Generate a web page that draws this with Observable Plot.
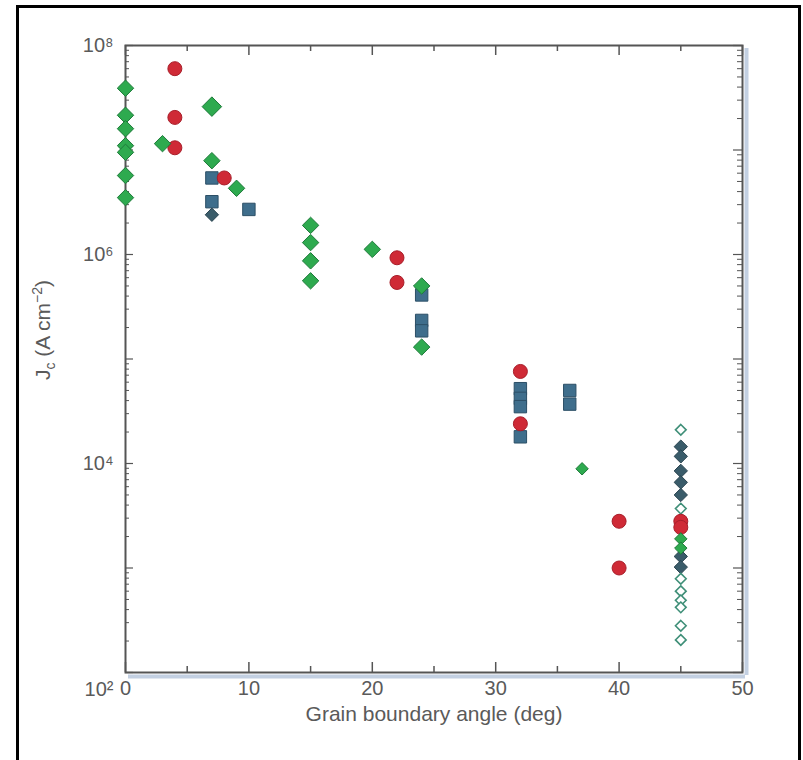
<!DOCTYPE html>
<html><head><meta charset="utf-8">
<script src="https://cdn.jsdelivr.net/npm/d3@7"></script>
<script src="https://cdn.jsdelivr.net/npm/@observablehq/plot@0.6"></script>
<style>
body{margin:0;background:#fff;}
#wrap{position:relative;width:803px;height:760px;overflow:hidden;background:#fff;}
#border{position:absolute;left:16px;top:5px;width:785px;height:800px;border:3px solid #000;box-sizing:border-box;pointer-events:none;}
#chart{position:absolute;left:0;top:0;}
</style></head>
<body><div id="wrap"><div id="chart"></div><div id="border"></div></div>
<script>
// ---- data (angle in degrees, Jc in A/cm^2) ----
const greenX = [0,0,0,0,0,0,0, 3, 7, 9, 15,15,15,15, 20, 24, 24];
const greenY = [3.9e7,2.15e7,1.6e7,1.1e7,9.5e6,5.7e6,3.5e6, 1.15e7, 7.9e6, 4.3e6, 1.9e6,1.3e6,8.7e5,5.6e5, 1.12e6, 5.0e5, 1.3e5];
const greenLargeX = [7];
const greenLargeY = [2.6e7];
const greenSmallX = [37, 45, 45];
const greenSmallY = [8.9e3, 1.9e3, 1.55e3];
const redX = [4, 4, 4, 8, 22, 22, 32, 32, 40, 40, 45, 45];
const redY = [6.0e7, 2.05e7, 1.05e7, 5.4e6, 9.3e5, 5.4e5, 7.6e4, 2.4e4, 2.8e3, 1.0e3, 2.8e3, 2.45e3];
const blueX = [7, 7, 10, 24, 24, 24, 32, 32, 32, 32, 36, 36];
const blueY = [5.4e6, 3.2e6, 2.7e6, 4.1e5, 2.34e5, 1.86e5, 5.2e4, 4.2e4, 3.5e4, 1.8e4, 5.0e4, 3.7e4];
const slateX = [7, 45, 45, 45, 45, 45, 45, 45];
const slateY = [2.4e6, 1.45e4, 1.17e4, 8.5e3, 6.6e3, 5.0e3, 1.29e3, 1.02e3];
const openX = [45, 45, 45, 45, 45, 45, 45, 45];
const openY = [2.1e4, 3.7e3, 7.9e2, 6.0e2, 4.9e2, 4.2e2, 2.8e2, 2.05e2];

const xMajor = [0, 10, 20, 30, 40, 50];
const xMinor = [5, 15, 25, 35, 45];
const yLabelTicks = [1e4, 1e6, 1e8];
const yBottomLabel = [1e2];
const yMajor = [1e2, 1e3, 1e4, 1e5, 1e6, 1e7, 1e8];
const yMinor = yMajor.slice(0, -1).flatMap(d => [2,3,4,5,6,7,8,9].map(k => k * d));
const supDigits = {"2":"²","4":"⁴","6":"⁶","8":"⁸"};

const pts = (xs, ys) => xs.map((x, i) => ({x, y: ys[i]}));

const W = 803, H = 760;
const mL = 125, mR = 61, mT = 45, mB = 88;
const pw = W - mL - mR, ph = H - mT - mB;
const ink = "#555";
const font = "'Liberation Sans', Arial, Helvetica, sans-serif";

const fmt = d => "10" + supDigits[String(Math.round(Math.log10(d)))];

const chart = Plot.plot({
  width: W, height: H,
  marginLeft: mL, marginRight: mR, marginTop: mT, marginBottom: mB,
  style: {fontFamily: font, background: "transparent"},
  x: {domain: [0, 50]},
  y: {type: "log", domain: [1e2, 1e8]},
  marks: [
    // frame shadow
    Plot.ruleX([50], {dx: 4, dy: 3, stroke: "#c3d0e2", strokeWidth: 4}),
    Plot.ruleY([1e2], {dy: 4, dx: 3, stroke: "#c3d0e2", strokeWidth: 4}),
    Plot.frame({stroke: ink, strokeWidth: 2}),
    // inward ticks
    Plot.tickX(xMajor, {insetTop: ph - 10, stroke: ink, strokeWidth: 1.5}),
    Plot.tickX(xMinor, {insetTop: ph - 6, stroke: ink, strokeWidth: 1.5}),
    Plot.tickX(xMajor, {insetBottom: ph - 10, stroke: ink, strokeWidth: 1.5}),
    Plot.tickX(xMinor, {insetBottom: ph - 6, stroke: ink, strokeWidth: 1.5}),
    Plot.tickY(yMajor, {insetRight: pw - 8, stroke: ink, strokeWidth: 1.2}),
    Plot.tickY(yMinor, {insetRight: pw - 4, stroke: ink, strokeWidth: 1}),
    Plot.tickY(yMajor, {insetLeft: pw - 9, stroke: ink, strokeWidth: 1.2}),
    Plot.tickY(yMinor, {insetLeft: pw - 5, stroke: ink, strokeWidth: 1}),
    // axes labels
    Plot.axisX(xMajor, {tickSize: 0, tickPadding: 8, fontSize: 20, color: "#5a5a5a", label: null}),
    Plot.axisY(yLabelTicks, {tickSize: 0, tickPadding: 12, fontSize: 20, color: "#5a5a5a", label: null, tickFormat: fmt}),
    Plot.axisY(yBottomLabel, {tickSize: 0, tickPadding: 12, dy: 17, fontSize: 20, color: "#5a5a5a", label: null, tickFormat: fmt}),
    Plot.text(["Grain boundary angle (deg)"], {text: d => d, frameAnchor: "bottom", dy: 48, fontSize: 21, fill: "#5a5a5a"}),
    // data
    Plot.dot(pts(blueX, blueY), {x: "x", y: "y", symbol: "square", r: 7, fill: "#3f6e8c", stroke: "#2c4f66", strokeWidth: 1}),
    Plot.dot(pts(slateX, slateY), {x: "x", y: "y", symbol: "diamond2", r: 6, fill: "#3a5c6a", stroke: "#2a4450", strokeWidth: 1}),
    Plot.dot(pts(openX, openY), {x: "x", y: "y", symbol: "diamond2", r: 4.8, fill: "#fff", stroke: "#3f8f78", strokeWidth: 1.6}),
    Plot.dot(pts(redX, redY), {x: "x", y: "y", symbol: "circle", r: 7, fill: "#cf2a36", stroke: "#a81e2a", strokeWidth: 1}),
    Plot.dot(pts(greenX, greenY), {x: "x", y: "y", symbol: "diamond2", r: 7.4, fill: "#2eaa4f", stroke: "#1e7a3a", strokeWidth: 1}),
    Plot.dot(pts(greenLargeX, greenLargeY), {x: "x", y: "y", symbol: "diamond2", r: 8.8, fill: "#2eaa4f", stroke: "#1e7a3a", strokeWidth: 1}),
    Plot.dot(pts(greenSmallX, greenSmallY), {x: "x", y: "y", symbol: "diamond2", r: 5.6, fill: "#2eaa4f", stroke: "#1e7a3a", strokeWidth: 1})
  ]
});

// y-axis title with subscript / superscript
const svg = d3.select(chart);
const t = svg.append("text")
  .attr("transform", "translate(50,330) rotate(-90)")
  .attr("text-anchor", "middle")
  .attr("fill", "#5a5a5a")
  .attr("font-family", font)
  .attr("font-size", 21);
t.append("tspan").text("J");
t.append("tspan").attr("font-size", 14).attr("dy", 5).text("c");
t.append("tspan").attr("dy", -5).text(" (A cm");
t.append("tspan").attr("font-size", 14).attr("dy", -8).text("−2");
t.append("tspan").attr("dy", 8).text(")");

document.getElementById("chart").appendChild(chart);
</script>
</body></html>
